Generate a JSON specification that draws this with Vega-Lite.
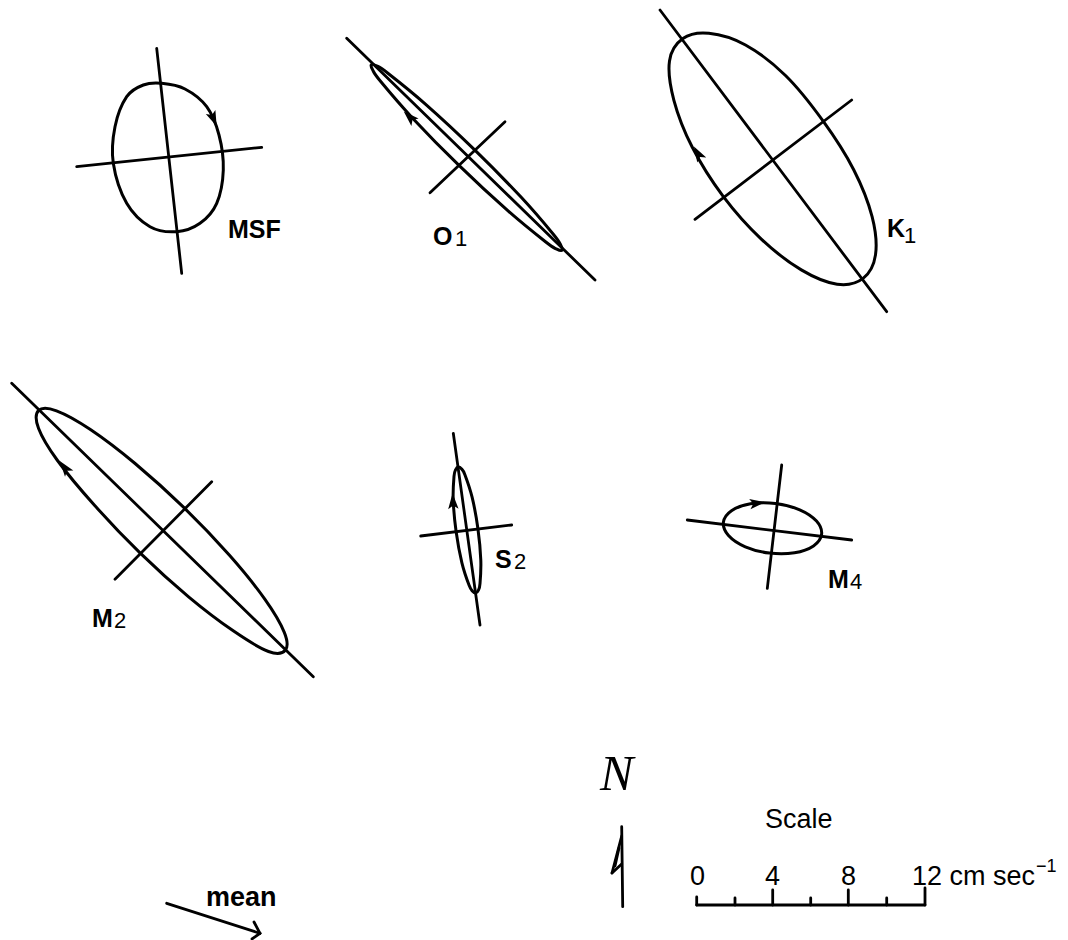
{
  "$schema": "https://vega.github.io/schema/vega-lite/v6.json",
  "width": 1068,
  "height": 940,
  "padding": 0,
  "autosize": {"type": "none"},
  "background": "white",
  "config": {"view": {"stroke": null}},
  "datasets": {
    "ellipses": [
      {"id": "MSF", "k": 1, "x": 161.7, "y": 83.3},
      {"id": "MSF", "k": 2, "x": 185, "y": 89},
      {"id": "MSF", "k": 3, "x": 206.7, "y": 106.7},
      {"id": "MSF", "k": 4, "x": 219, "y": 135},
      {"id": "MSF", "k": 5, "x": 223.3, "y": 170},
      {"id": "MSF", "k": 6, "x": 216.7, "y": 203.3},
      {"id": "MSF", "k": 7, "x": 200, "y": 223.3},
      {"id": "MSF", "k": 8, "x": 176.7, "y": 231.7},
      {"id": "MSF", "k": 9, "x": 150, "y": 226.7},
      {"id": "MSF", "k": 10, "x": 126.7, "y": 203.3},
      {"id": "MSF", "k": 11, "x": 113.3, "y": 163.3},
      {"id": "MSF", "k": 12, "x": 115, "y": 126.7},
      {"id": "MSF", "k": 13, "x": 126.7, "y": 96.7},
      {"id": "MSF", "k": 14, "x": 143.3, "y": 85},

      {"id": "O1", "k": 1, "x": 562.1, "y": 250.3},
      {"id": "O1", "k": 2, "x": 560.8, "y": 245.2},
      {"id": "O1", "k": 3, "x": 553.1, "y": 234.0},
      {"id": "O1", "k": 4, "x": 521.0, "y": 197.1},
      {"id": "O1", "k": 5, "x": 474.4, "y": 149.6},
      {"id": "O1", "k": 6, "x": 425.7, "y": 104.3},
      {"id": "O1", "k": 7, "x": 387.9, "y": 73.2},
      {"id": "O1", "k": 8, "x": 376.6, "y": 65.8},
      {"id": "O1", "k": 9, "x": 371.3, "y": 64.7},
      {"id": "O1", "k": 10, "x": 372.6, "y": 69.8},
      {"id": "O1", "k": 11, "x": 380.3, "y": 81.0},
      {"id": "O1", "k": 12, "x": 412.4, "y": 117.9},
      {"id": "O1", "k": 13, "x": 459.0, "y": 165.4},
      {"id": "O1", "k": 14, "x": 507.8, "y": 210.7},
      {"id": "O1", "k": 15, "x": 545.5, "y": 241.8},
      {"id": "O1", "k": 16, "x": 556.8, "y": 249.2},

      {"id": "K1", "k": 1, "x": 863.1, "y": 278.4},
      {"id": "K1", "k": 2, "x": 875.5, "y": 254.9},
      {"id": "K1", "k": 3, "x": 872.1, "y": 216.7},
      {"id": "K1", "k": 4, "x": 853.7, "y": 169.7},
      {"id": "K1", "k": 5, "x": 823.0, "y": 120.9},
      {"id": "K1", "k": 6, "x": 785.5, "y": 75.5},
      {"id": "K1", "k": 7, "x": 745.5, "y": 45.0},
      {"id": "K1", "k": 8, "x": 708.9, "y": 33.3},
      {"id": "K1", "k": 9, "x": 682.9, "y": 38.6},
      {"id": "K1", "k": 10, "x": 669.5, "y": 61.0},
      {"id": "K1", "k": 11, "x": 673.9, "y": 100.3},
      {"id": "K1", "k": 12, "x": 692.3, "y": 147.3},
      {"id": "K1", "k": 13, "x": 723.0, "y": 196.1},
      {"id": "K1", "k": 14, "x": 761.3, "y": 239.1},
      {"id": "K1", "k": 15, "x": 801.3, "y": 269.9},
      {"id": "K1", "k": 16, "x": 837.1, "y": 284.2},

      {"id": "M2", "k": 1, "x": 285.3, "y": 650.2},
      {"id": "M2", "k": 2, "x": 284.3, "y": 632.4},
      {"id": "M2", "k": 3, "x": 264.8, "y": 599.1},
      {"id": "M2", "k": 4, "x": 229.5, "y": 555.3},
      {"id": "M2", "k": 5, "x": 184.0, "y": 507.7},
      {"id": "M2", "k": 6, "x": 135.1, "y": 463.5},
      {"id": "M2", "k": 7, "x": 90.4, "y": 429.5},
      {"id": "M2", "k": 8, "x": 56.5, "y": 410.8},
      {"id": "M2", "k": 9, "x": 38.7, "y": 410.4},
      {"id": "M2", "k": 10, "x": 38.5, "y": 428.2},
      {"id": "M2", "k": 11, "x": 57.5, "y": 460.5},
      {"id": "M2", "k": 12, "x": 94.5, "y": 505.3},
      {"id": "M2", "k": 13, "x": 140.0, "y": 552.9},
      {"id": "M2", "k": 14, "x": 188.9, "y": 597.1},
      {"id": "M2", "k": 15, "x": 233.6, "y": 631.1},
      {"id": "M2", "k": 16, "x": 268.5, "y": 651.5},

      {"id": "S2", "k": 1, "x": 475.8, "y": 592.9},
      {"id": "S2", "k": 2, "x": 478.3, "y": 590.4},
      {"id": "S2", "k": 3, "x": 480.0, "y": 583.7},
      {"id": "S2", "k": 4, "x": 480.8, "y": 560.1},
      {"id": "S2", "k": 5, "x": 477.9, "y": 528.5},
      {"id": "S2", "k": 6, "x": 472.1, "y": 497.2},
      {"id": "S2", "k": 7, "x": 464.9, "y": 474.7},
      {"id": "S2", "k": 8, "x": 461.4, "y": 468.8},
      {"id": "S2", "k": 9, "x": 458.2, "y": 467.1},
      {"id": "S2", "k": 10, "x": 455.7, "y": 469.6},
      {"id": "S2", "k": 11, "x": 454.0, "y": 476.3},
      {"id": "S2", "k": 12, "x": 453.2, "y": 499.9},
      {"id": "S2", "k": 13, "x": 456.1, "y": 531.5},
      {"id": "S2", "k": 14, "x": 461.9, "y": 562.8},
      {"id": "S2", "k": 15, "x": 469.1, "y": 585.3},
      {"id": "S2", "k": 16, "x": 472.6, "y": 591.2},

      {"id": "M4", "k": 1, "x": 821.6, "y": 534.3},
      {"id": "M4", "k": 2, "x": 816.5, "y": 521.1},
      {"id": "M4", "k": 3, "x": 799.7, "y": 509.8},
      {"id": "M4", "k": 4, "x": 775.5, "y": 503.5},
      {"id": "M4", "k": 5, "x": 750.5, "y": 503.8},
      {"id": "M4", "k": 6, "x": 731.5, "y": 510.7},
      {"id": "M4", "k": 7, "x": 723.4, "y": 522.3},
      {"id": "M4", "k": 8, "x": 728.5, "y": 535.5},
      {"id": "M4", "k": 9, "x": 745.3, "y": 546.8},
      {"id": "M4", "k": 10, "x": 769.5, "y": 553.1},
      {"id": "M4", "k": 11, "x": 794.5, "y": 552.8},
      {"id": "M4", "k": 12, "x": 813.5, "y": 545.9}
    ],
    "segments": [
      {"part": "MSF major", "x": 156.7, "y": 48.3, "x2": 181.7, "y2": 273.3},
      {"part": "MSF minor", "x": 76.7, "y": 166.7, "x2": 261.7, "y2": 147.3},
      {"part": "O1 major", "x": 346.7, "y": 38.3, "x2": 595, "y2": 280},
      {"part": "O1 minor", "x": 430, "y": 192.7, "x2": 505, "y2": 121.7},
      {"part": "K1 major", "x": 660, "y": 10, "x2": 886.7, "y2": 311.7},
      {"part": "K1 minor", "x": 695, "y": 219.3, "x2": 851.7, "y2": 100},
      {"part": "M2 major", "x": 11.7, "y": 383.3, "x2": 313.3, "y2": 676.7},
      {"part": "M2 minor", "x": 115, "y": 579.3, "x2": 211.7, "y2": 481.7},
      {"part": "S2 major", "x": 453.3, "y": 433.3, "x2": 480, "y2": 625},
      {"part": "S2 minor", "x": 420.7, "y": 536, "x2": 511.7, "y2": 525},
      {"part": "M4 major", "x": 687.3, "y": 520, "x2": 851.7, "y2": 540},
      {"part": "M4 minor", "x": 781.7, "y": 465, "x2": 767.3, "y2": 588.3},
      {"part": "scale bar", "x": 696.7, "y": 905, "x2": 925, "y2": 905},
      {"part": "tick 0", "x": 696.7, "y": 897, "x2": 696.7, "y2": 905},
      {"part": "tick 2", "x": 735, "y": 898, "x2": 735, "y2": 905},
      {"part": "tick 4", "x": 772.7, "y": 890, "x2": 772.7, "y2": 905},
      {"part": "tick 6", "x": 810.7, "y": 898, "x2": 810.7, "y2": 905},
      {"part": "tick 8", "x": 848.3, "y": 890, "x2": 848.3, "y2": 905},
      {"part": "tick 10", "x": 886.7, "y": 898, "x2": 886.7, "y2": 905},
      {"part": "tick 12", "x": 925, "y": 888, "x2": 925, "y2": 905},
      {"part": "north shaft", "x": 621.7, "y": 826.7, "x2": 622.7, "y2": 906.7},
      {"part": "north barb a", "x": 621.7, "y": 836, "x2": 612, "y2": 873},
      {"part": "north barb b", "x": 612, "y": 873, "x2": 621.7, "y2": 864},
      {"part": "north barb c", "x": 619, "y": 848, "x2": 615, "y2": 866},
      {"part": "mean shaft", "x": 166.7, "y": 903.3, "x2": 260, "y2": 933.3},
      {"part": "mean barb a", "x": 254, "y": 922, "x2": 260, "y2": 933.3},
      {"part": "mean barb b", "x": 252, "y": 939, "x2": 260, "y2": 933.3}
    ],
    "arrows": [
      {"id": "MSF", "x": 213.3, "y": 118.3, "dir": 157},
      {"id": "O1", "x": 410, "y": 117.5, "dir": 314},
      {"id": "K1", "x": 698.3, "y": 154, "dir": 330},
      {"id": "M2", "x": 65, "y": 468, "dir": 323},
      {"id": "S2", "x": 453, "y": 502, "dir": 357},
      {"id": "M4", "x": 756.7, "y": 503.3, "dir": 83}
    ],
    "labels": [
      {"role": "name", "text": "MSF", "x": 228, "y": 238},
      {"role": "name", "text": "O", "x": 433, "y": 245},
      {"role": "sub", "text": "1", "x": 455, "y": 246},
      {"role": "name", "text": "K", "x": 887, "y": 237},
      {"role": "sub", "text": "1", "x": 904, "y": 243},
      {"role": "name", "text": "M", "x": 92, "y": 627},
      {"role": "sub", "text": "2", "x": 114, "y": 628},
      {"role": "name", "text": "S", "x": 495, "y": 568},
      {"role": "sub", "text": "2", "x": 514, "y": 569},
      {"role": "name", "text": "M", "x": 828, "y": 588},
      {"role": "sub", "text": "4", "x": 850, "y": 589},
      {"role": "scale", "text": "Scale", "x": 765, "y": 828},
      {"role": "scale", "text": "0", "x": 690, "y": 885},
      {"role": "scale", "text": "4", "x": 765, "y": 885},
      {"role": "scale", "text": "8", "x": 841, "y": 885},
      {"role": "scale", "text": "12 cm sec", "x": 912, "y": 885},
      {"role": "sup", "text": "−1", "x": 1036, "y": 872},
      {"role": "mean", "text": "mean", "x": 206, "y": 906},
      {"role": "north", "text": "N", "x": 600, "y": 790}
    ]
  },
  "layer": [
    {
      "data": {"name": "segments"},
      "mark": {"type": "rule", "color": "black", "strokeWidth": 2.8, "strokeCap": "round"},
      "encoding": {
        "x": {"field": "x", "type": "quantitative", "scale": {"domain": [0, 1068], "nice": false, "zero": false}, "axis": null},
        "y": {"field": "y", "type": "quantitative", "scale": {"domain": [0, 940], "nice": false, "zero": false, "reverse": true}, "axis": null},
        "x2": {"field": "x2"},
        "y2": {"field": "y2"}
      }
    },
    {
      "data": {"name": "ellipses"},
      "mark": {"type": "line", "interpolate": "cardinal-closed", "color": "black", "strokeWidth": 3},
      "encoding": {
        "x": {"field": "x", "type": "quantitative", "scale": {"domain": [0, 1068], "nice": false, "zero": false}, "axis": null},
        "y": {"field": "y", "type": "quantitative", "scale": {"domain": [0, 940], "nice": false, "zero": false, "reverse": true}, "axis": null},
        "detail": {"field": "id", "type": "nominal"},
        "order": {"field": "k", "type": "quantitative"}
      }
    },
    {
      "data": {"name": "arrows"},
      "mark": {"type": "point", "shape": "M0,-1L0.6,0.8L0,0.4L-0.6,0.8Z", "filled": true, "color": "black", "opacity": 1, "size": 300},
      "encoding": {
        "x": {"field": "x", "type": "quantitative", "scale": {"domain": [0, 1068], "nice": false, "zero": false}, "axis": null},
        "y": {"field": "y", "type": "quantitative", "scale": {"domain": [0, 940], "nice": false, "zero": false, "reverse": true}, "axis": null},
        "angle": {"field": "dir", "type": "quantitative", "scale": null}
      }
    },
    {
      "data": {"name": "labels"},
      "transform": [{"filter": "datum.role === 'name'"}],
      "mark": {"type": "text", "align": "left", "baseline": "alphabetic", "font": "Liberation Sans", "fontWeight": "bold", "fontSize": 25, "color": "black"},
      "encoding": {
        "x": {"field": "x", "type": "quantitative", "scale": {"domain": [0, 1068], "nice": false, "zero": false}, "axis": null},
        "y": {"field": "y", "type": "quantitative", "scale": {"domain": [0, 940], "nice": false, "zero": false, "reverse": true}, "axis": null},
        "text": {"field": "text"}
      }
    },
    {
      "data": {"name": "labels"},
      "transform": [{"filter": "datum.role === 'sub'"}],
      "mark": {"type": "text", "align": "left", "baseline": "alphabetic", "font": "Liberation Sans", "fontSize": 22, "color": "black"},
      "encoding": {
        "x": {"field": "x", "type": "quantitative", "scale": {"domain": [0, 1068], "nice": false, "zero": false}, "axis": null},
        "y": {"field": "y", "type": "quantitative", "scale": {"domain": [0, 940], "nice": false, "zero": false, "reverse": true}, "axis": null},
        "text": {"field": "text"}
      }
    },
    {
      "data": {"name": "labels"},
      "transform": [{"filter": "datum.role === 'scale'"}],
      "mark": {"type": "text", "align": "left", "baseline": "alphabetic", "font": "Liberation Sans", "fontSize": 27, "color": "black"},
      "encoding": {
        "x": {"field": "x", "type": "quantitative", "scale": {"domain": [0, 1068], "nice": false, "zero": false}, "axis": null},
        "y": {"field": "y", "type": "quantitative", "scale": {"domain": [0, 940], "nice": false, "zero": false, "reverse": true}, "axis": null},
        "text": {"field": "text"}
      }
    },
    {
      "data": {"name": "labels"},
      "transform": [{"filter": "datum.role === 'sup'"}],
      "mark": {"type": "text", "align": "left", "baseline": "alphabetic", "font": "Liberation Sans", "fontSize": 18, "color": "black"},
      "encoding": {
        "x": {"field": "x", "type": "quantitative", "scale": {"domain": [0, 1068], "nice": false, "zero": false}, "axis": null},
        "y": {"field": "y", "type": "quantitative", "scale": {"domain": [0, 940], "nice": false, "zero": false, "reverse": true}, "axis": null},
        "text": {"field": "text"}
      }
    },
    {
      "data": {"name": "labels"},
      "transform": [{"filter": "datum.role === 'mean'"}],
      "mark": {"type": "text", "align": "left", "baseline": "alphabetic", "font": "Liberation Sans", "fontWeight": "bold", "fontSize": 27, "color": "black"},
      "encoding": {
        "x": {"field": "x", "type": "quantitative", "scale": {"domain": [0, 1068], "nice": false, "zero": false}, "axis": null},
        "y": {"field": "y", "type": "quantitative", "scale": {"domain": [0, 940], "nice": false, "zero": false, "reverse": true}, "axis": null},
        "text": {"field": "text"}
      }
    },
    {
      "data": {"name": "labels"},
      "transform": [{"filter": "datum.role === 'north'"}],
      "mark": {"type": "text", "align": "left", "baseline": "alphabetic", "font": "Liberation Serif", "fontStyle": "italic", "fontSize": 50, "color": "black"},
      "encoding": {
        "x": {"field": "x", "type": "quantitative", "scale": {"domain": [0, 1068], "nice": false, "zero": false}, "axis": null},
        "y": {"field": "y", "type": "quantitative", "scale": {"domain": [0, 940], "nice": false, "zero": false, "reverse": true}, "axis": null},
        "text": {"field": "text"}
      }
    }
  ]
}
